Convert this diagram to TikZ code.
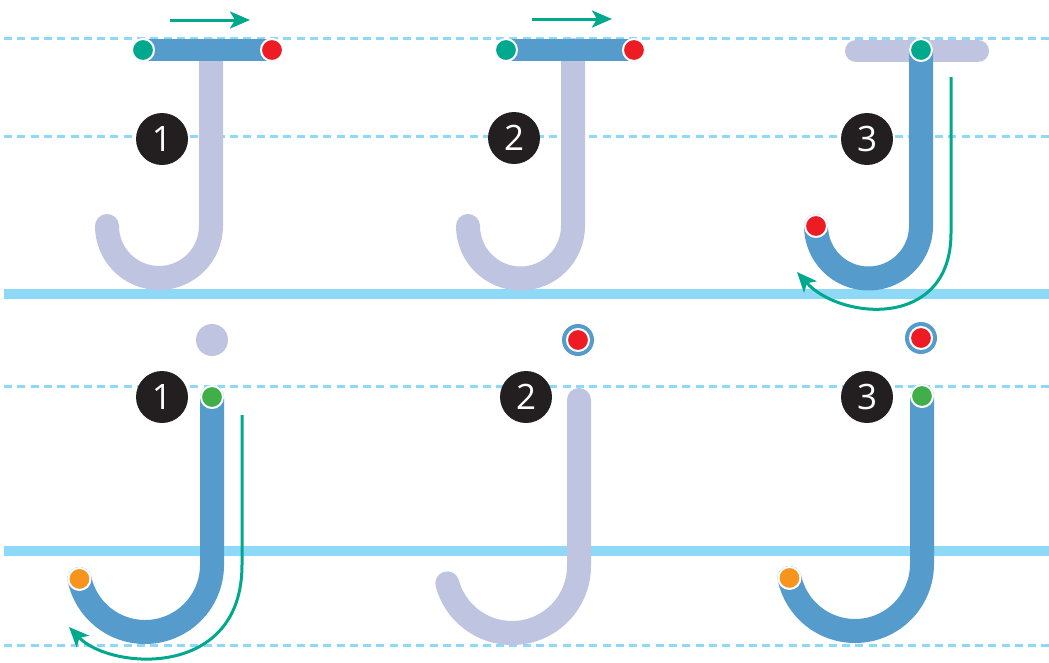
\documentclass[tikz,border=0pt]{standalone}
\usepackage{fontspec}
\newfontfamily\numfont{Open Sans}
\usetikzlibrary{arrows.meta}
\definecolor{guide}{HTML}{8ED8F8}
\definecolor{inkblue}{HTML}{559BCB}
\definecolor{ghost}{HTML}{BFC5E0}
\definecolor{arrowteal}{HTML}{00A88E}
\definecolor{dotred}{HTML}{ED1C24}
\definecolor{dotgreen}{HTML}{40AE49}
\definecolor{dotorange}{HTML}{F7941D}
\definecolor{badge}{HTML}{231F20}
\tikzset{
  dashguide/.style={guide, line width=3pt, dash pattern=on 8pt off 5.3pt},
  solidguide/.style={guide, line width=10pt},
  inkstroke/.style={inkblue, line width=24pt, line cap=round, line join=round},
  ghoststroke/.style={ghost, line width=24pt, line cap=round, line join=round},
  inkbar/.style={inkblue, line width=22pt, line cap=round},
  ghostbar/.style={ghost, line width=22pt, line cap=round},
  dirarrow/.style={arrowteal, line width=3pt, -{Stealth[length=20pt,width=17pt,inset=5pt]}},
  numbadge/.style={circle, fill=badge, text=white, minimum size=52pt, inner sep=0pt,
    font=\numfont\fontsize{35}{35}\selectfont},
  pdot/.style={circle, fill=#1, draw=white, line width=2pt, minimum size=22pt, inner sep=0pt},
  ringbase/.style={circle, fill=inkblue, minimum size=32pt, inner sep=0pt},
  ghostdot/.style={circle, fill=ghost, minimum size=32pt, inner sep=0pt},
}
\begin{document}
\begin{tikzpicture}[x=1pt,y=-1pt]
\useasboundingbox (0,0) rectangle (1049,662);
\fill[white] (0,0) rectangle (1049,662);
% guide lines
\draw[dashguide] (4,38) -- (1049,38);
\draw[dashguide] (4,136) -- (1049,136);
\draw[solidguide] (4,294) -- (1049,294);
\draw[dashguide] (4,386) -- (1049,386);
\draw[solidguide] (4,551) -- (1049,551);
\draw[dashguide] (4,645) -- (1049,645);

% ===== Top row, panel 1 =====
\draw[ghoststroke] (211,50) -- (211,226) arc[start angle=0,end angle=180,radius=52];
\coordinate (t1a) at (143,50);
\coordinate (t1b) at (272,50);
\draw[inkbar] (t1a) -- (t1b);
\node[pdot=arrowteal] (t1s) at (t1a) {};
\node[pdot=dotred] (t1e) at (t1b) {};
\node[numbadge] (n1) at (162,139) {1};
\coordinate (ar1s) at (170,20);
\coordinate (ar1e) at (250,20);
\draw[dirarrow] (ar1s) -- (ar1e);

% ===== Top row, panel 2 =====
\draw[ghoststroke] (573,50) -- (573,226) arc[start angle=0,end angle=180,radius=52.5];
\coordinate (t2a) at (506,50);
\coordinate (t2b) at (634,50);
\draw[inkbar] (t2a) -- (t2b);
\node[pdot=arrowteal] (t2s) at (t2a) {};
\node[pdot=dotred] (t2e) at (t2b) {};
\node[numbadge] (n2) at (514,138) {2};
\coordinate (ar2s) at (532,19);
\coordinate (ar2e) at (612,19);
\draw[dirarrow] (ar2s) -- (ar2e);

% ===== Top row, panel 3 =====
\draw[ghostbar] (856,51) -- (978,51);
\coordinate (t3a) at (921,50);
\draw[inkstroke] (t3a) -- (921,226) arc[start angle=0,end angle=180,radius=52.5] coordinate (t3b);
\node[pdot=arrowteal] (t3s) at (t3a) {};
\node[pdot=dotred] (t3e) at (t3b) {};
\node[numbadge] (n3) at (867,139) {3};
\coordinate (ar3s) at (951,77);
\coordinate (ar3m) at (951,233);
\coordinate (ar3e) at (797,272);
\draw[dirarrow] (ar3s) -- (ar3m) .. controls (951,330) and (840,320) .. (ar3e);

% ===== Bottom row, panel 1 =====
\node[ghostdot] (gd) at (212,340) {};
\coordinate (b1a) at (212,397);
\draw[inkstroke] (b1a) -- (212,565) arc[start angle=0,end angle=168,radius=67] coordinate (b1b);
\node[pdot=dotgreen] (b1s) at (b1a) {};
\node[pdot=dotorange] (b1e) at (b1b) {};
\node[numbadge] (n4) at (162,397) {1};
\coordinate (ar4s) at (242,415);
\coordinate (ar4m) at (242,565);
\coordinate (ar4e) at (69,627);
\draw[dirarrow] (ar4s) -- (ar4m) .. controls (242,680) and (110,670) .. (ar4e);

% ===== Bottom row, panel 2 =====
\draw[ghoststroke] (579,400) -- (579,566) arc[start angle=0,end angle=165,radius=67];
\node[ringbase] (rd2o) at (578,340) {};
\node[pdot=dotred] (rd2) at (578,340) {};
\node[numbadge] (n5) at (526,397) {2};

% ===== Bottom row, panel 3 =====
\node[ringbase] (rd3o) at (921,338) {};
\node[pdot=dotred] (rd3) at (921,338) {};
\coordinate (b3a) at (922,396);
\draw[inkstroke] (b3a) -- (922,564) arc[start angle=0,end angle=168,radius=67] coordinate (b3b);
\node[pdot=dotgreen] (b3s) at (b3a) {};
\node[pdot=dotorange] (b3e) at (b3b) {};
\node[numbadge] (n6) at (867,397) {3};
\end{tikzpicture}
\end{document}
